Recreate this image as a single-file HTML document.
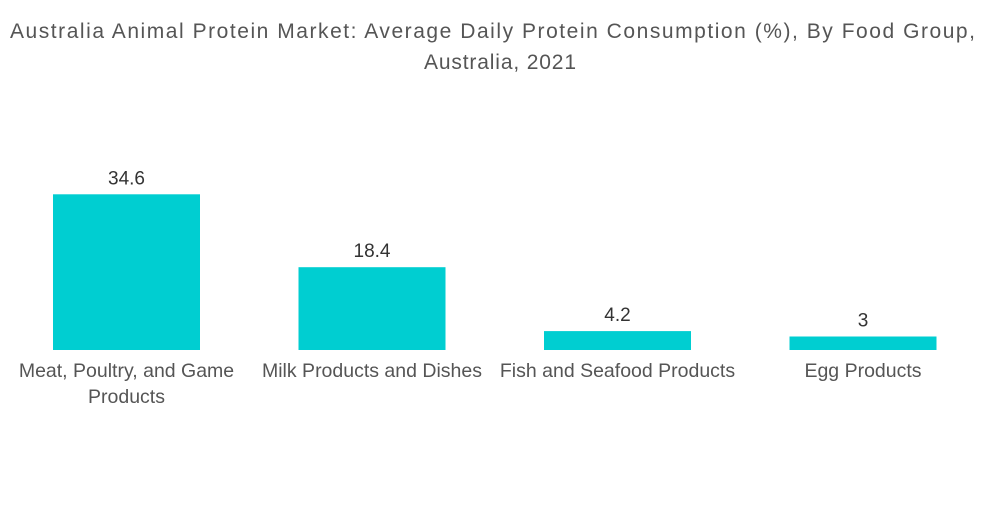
<!DOCTYPE html>
<html><head><meta charset="utf-8"><style>
body{margin:0;background:#fff;font-family:"Liberation Sans",sans-serif;}
svg text{font-family:"Liberation Sans",sans-serif;}
</style></head><body>
<svg width="1000" height="504" viewBox="0 0 1000 504">
<rect width="1000" height="504" fill="#fff"/>
<text x="10" y="38" textLength="965" lengthAdjust="spacing" font-size="21" fill="#555">Australia Animal Protein Market: Average Daily Protein Consumption (%), By Food Group,</text>
<text x="500" y="69" text-anchor="middle" font-size="21" fill="#555" textLength="152" lengthAdjust="spacing">Australia, 2021</text>
<g id="bars"></g>
</svg>
<script>
const categories=[["Meat, Poultry, and Game","Products"],["Milk Products and Dishes"],["Fish and Seafood Products"],["Egg Products"]];
const values=[34.6,18.4,4.2,3];
const labels=["34.6","18.4","4.2","3"];
const baseY=350, scale=4.5, x0=53, step=245.5, bw=147;
function xPos(i){return x0+i*step;}
function yPos(v){return baseY-v*scale;}
const g=document.getElementById('bars');
const NS='http://www.w3.org/2000/svg';
values.forEach((v,i)=>{
  const r=document.createElementNS(NS,'rect');
  r.setAttribute('x',xPos(i));r.setAttribute('y',yPos(v));
  r.setAttribute('width',bw);r.setAttribute('height',baseY-yPos(v));
  r.setAttribute('fill','#00CED1');
  
  
  g.appendChild(r);
  const t=document.createElementNS(NS,'text');
  t.setAttribute('x',xPos(i)+bw/2);t.setAttribute('y',yPos(v)-10);
  t.setAttribute('text-anchor','middle');t.setAttribute('font-size','19');t.setAttribute('fill','#333');
  t.textContent=labels[i];
  
  
  g.appendChild(t);
  categories[i].forEach((line,j)=>{
    const c=document.createElementNS(NS,'text');
    c.setAttribute('x',xPos(i)+bw/2);c.setAttribute('y',377+j*26);
    c.setAttribute('text-anchor','middle');c.setAttribute('font-size','19.5');c.setAttribute('fill','#555');
    c.textContent=line;
    
    
    g.appendChild(c);
  });
});
</script>
</body></html>
